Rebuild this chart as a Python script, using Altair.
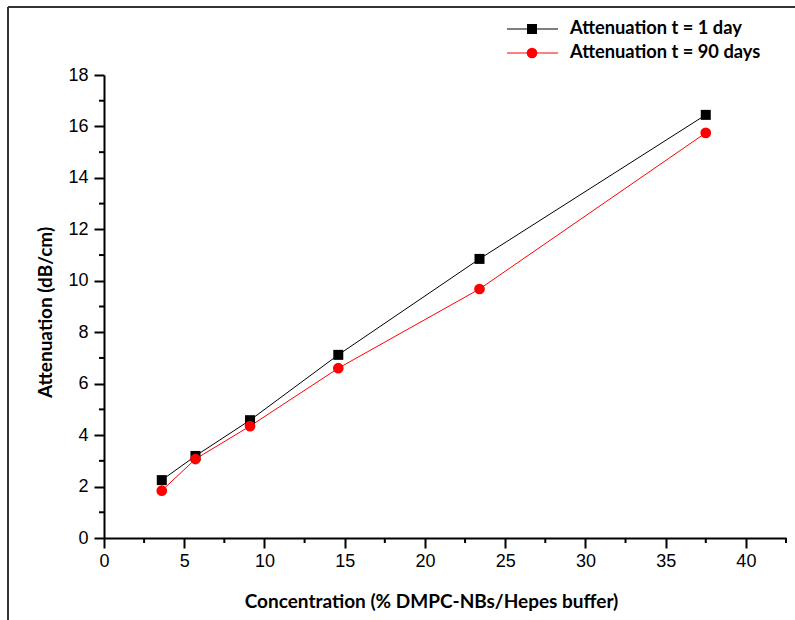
import altair as alt
import pandas as pd

# ---- data ----
concentration = [3.6, 5.7, 9.1, 14.6, 23.4, 37.5]
att_1_day = [2.25, 3.19, 4.58, 7.12, 10.85, 16.45]
att_90_days = [1.84, 3.07, 4.35, 6.60, 9.68, 15.75]
series_names = ["Attenuation t = 1 day", "Attenuation t = 90 days"]
series_colors = ["#000000", "#ff0000"]
series_shapes = ["square", "circle"]
series_sizes = [100, 115]
x_major = [0, 5, 10, 15, 20, 25, 30, 35, 40]
x_minor = [2.5, 7.5, 12.5, 17.5, 22.5, 27.5, 32.5, 37.5, 42.5]
y_major = [0, 2, 4, 6, 8, 10, 12, 14, 16, 18]
y_minor = [1, 3, 5, 7, 9, 11, 13, 15, 17]

rows = []
for c, a in zip(concentration, att_1_day):
    rows.append({"conc": c, "att": a, "series": series_names[0]})
for c, a in zip(concentration, att_90_days):
    rows.append({"conc": c, "att": a, "series": series_names[1]})
df = pd.DataFrame(rows)
legend_df = pd.DataFrame({"series": series_names})

TITLE_FONT = "Lato"
LABEL_FONT = "Liberation Sans"
W, H = 682, 463

xscale = alt.Scale(domain=[0, 42.5], nice=False, zero=False)
yscale = alt.Scale(domain=[0, 18], nice=False, zero=False)
color_scale = alt.Scale(domain=series_names, range=series_colors)
shape_scale = alt.Scale(domain=series_names, range=series_shapes)
size_scale = alt.Scale(domain=series_names, range=series_sizes)

x_axis = alt.Axis(
    values=x_major, title="Concentration (% DMPC-NBs/Hepes buffer)",
    titleX=327, titleY=63, titleBaseline="middle", titleAlign="center",
    tickSize=10, labelPadding=4, labelFlush=False, grid=False,
)
y_axis = alt.Axis(
    values=y_major, title="Attenuation (dB/cm)",
    titleX=-59, titleY=237, titleAngle=270, titleBaseline="middle", titleAlign="center",
    tickSize=10, labelPadding=6, labelFlush=False, grid=False,
)

base = alt.Chart(df)

lines = base.mark_line(strokeWidth=1).encode(
    x=alt.X("conc:Q", scale=xscale, axis=x_axis),
    y=alt.Y("att:Q", scale=yscale, axis=y_axis),
    color=alt.Color("series:N", scale=color_scale, legend=None),
)

points = base.mark_point(filled=True, opacity=1).encode(
    x=alt.X("conc:Q", scale=xscale),
    y=alt.Y("att:Q", scale=yscale),
    color=alt.Color("series:N", scale=color_scale, legend=None),
    shape=alt.Shape("series:N", scale=shape_scale, legend=None),
    size=alt.Size("series:N", scale=size_scale, legend=None),
)

# minor ticks drawn as short rules placed through the shared scales
minor_x = alt.Chart(pd.DataFrame({"v": x_minor})).mark_rule(color="#000000", strokeWidth=2).encode(
    x=alt.X("v:Q", scale=xscale), y=alt.value(H), y2=alt.value(H + 5)
)
minor_y = alt.Chart(pd.DataFrame({"v": y_minor})).mark_rule(color="#000000", strokeWidth=2).encode(
    y=alt.Y("v:Q", scale=yscale), x=alt.value(-5), x2=alt.value(0)
)

# outer frame lines (left and top border of the figure)
frame_left = alt.Chart(pd.DataFrame({"a": [0]})).mark_rule(color="#333333", strokeWidth=2).encode(
    x=alt.value(-96), y=alt.value(-68), y2=alt.value(560)
)
frame_top = alt.Chart(pd.DataFrame({"a": [0]})).mark_rule(color="#333333", strokeWidth=2).encode(
    x=alt.value(-96), x2=alt.value(700), y=alt.value(-68)
)

main = alt.layer(frame_left, frame_top, minor_x, minor_y, lines, points)

# legend (line + marker + label), rows placed by a point scale
leg_y = alt.Y("series:N", scale=alt.Scale(type="point", domain=series_names, range=[-46, -22], padding=0),
              axis=None)
leg_base = alt.Chart(legend_df)
leg_line = leg_base.mark_rule(strokeWidth=1).encode(
    x=alt.value(403), x2=alt.value(454), y=leg_y,
    color=alt.Color("series:N", scale=color_scale, legend=None),
)
leg_pt = leg_base.mark_point(filled=True, opacity=1).encode(
    x=alt.value(428), y=leg_y,
    color=alt.Color("series:N", scale=color_scale, legend=None),
    shape=alt.Shape("series:N", scale=shape_scale, legend=None),
    size=alt.Size("series:N", scale=size_scale, legend=None),
)
leg_txt = leg_base.mark_text(align="left", baseline="middle", font=TITLE_FONT, fontWeight="bold",
                             fontSize=18.3, color="#000000").encode(
    x=alt.value(466), y=leg_y, text="series:N",
)
legend = alt.layer(leg_line, leg_pt, leg_txt)

chart = alt.layer(main, legend).resolve_scale(y="independent").properties(
    width=W, height=H,
    autosize=alt.AutoSizeParams(type="none"),
    padding={"left": 104, "top": 75, "right": 9, "bottom": 82},
    background="white",
).configure_view(stroke=None).configure_axis(
    domainColor="#000000", domainWidth=2, tickColor="#000000", tickWidth=2,
    labelFont=LABEL_FONT, labelFontSize=18, labelColor="#000000",
    titleFont=TITLE_FONT, titleFontWeight="bold", titleFontSize=19, titleColor="#000000",
)

chart.save("out.html", embed_options={"renderer": "svg", "actions": False})
